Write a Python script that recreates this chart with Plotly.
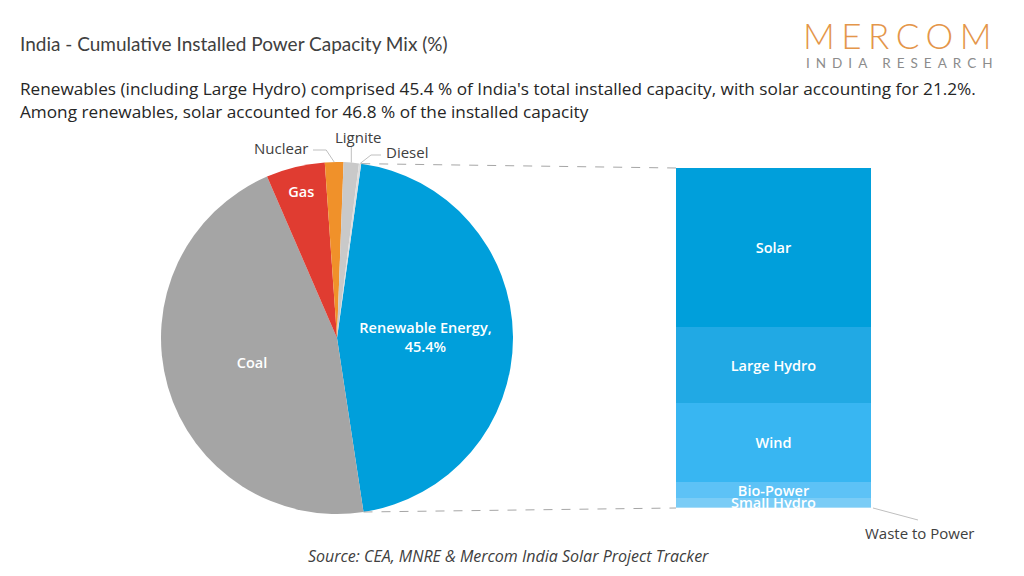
import numpy as np
import plotly.graph_objects as go

W, H = 1024, 576


def px(x):
    return x / W


def py(y):
    return 1 - y / H


# ---------------- data ----------------
mix_labels = ["Renewable Energy", "Coal", "Gas", "Nuclear", "Lignite", "Diesel"]
mix_values = [45.4, 45.9, 5.4, 1.7, 1.4, 0.2]
mix_colors = ["#009FDB", "#A5A5A5", "#E03C31", "#F0912A", "#C9C9C9", "#DDDDDD"]

re_labels = ["Waste to Power", "Small Hydro", "Bio-Power", "Wind", "Large Hydro", "Solar"]
re_values = [0.3, 2.7, 4.6, 23.3, 22.3, 46.8]
re_colors = ["#A6DCF8", "#7ACCF6", "#5DC2F6", "#38B6F2", "#21A9E4", "#009FDB"]

title_text = "India - Cumulative Installed Power Capacity Mix (%)"
subtitle_1 = ("Renewables (including Large Hydro) comprised 45.4 % of India's total installed "
              "capacity, with solar accounting for 21.2%.")
subtitle_2 = "Among renewables, solar accounted for 46.8 % of the installed capacity"
source_text = "Source: CEA, MNRE & Mercom India Solar Project Tracker"

# ---------------- geometry ----------------
CX, CY, R = 337, 338, 176
ROT = 7.9  # degrees clockwise from 12 o'clock where first slice starts
BAR_L, BAR_R, BAR_T, BAR_B = 676, 871, 168, 508

fig = go.Figure()

pie_text = [f"{mix_labels[0]},<br>{mix_values[0]}%", "Coal", "Gas", "", "", ""]
pie_pos = ["inside", "inside", "inside", "none", "none", "none"]
fig.add_trace(go.Pie(
    labels=mix_labels, values=mix_values, sort=False, direction="clockwise",
    rotation=ROT, marker=dict(colors=mix_colors, line=dict(width=0)),
    text=pie_text, textinfo="text", textposition=pie_pos,
    insidetextorientation="horizontal",
    textfont=dict(color="white", size=14.5, family="Open Sans", weight=600),
    domain=dict(x=[px(CX - R), px(CX + R)], y=[py(CY + R), py(CY - R)]),
    showlegend=False, hoverinfo="skip",
))

for lab, val, col in zip(re_labels, re_values, re_colors):
    fig.add_trace(go.Bar(
        x=["RE"], y=[val], marker=dict(color=col, line=dict(width=0)),
        text=[lab], textposition="none" if lab == "Waste to Power" else "inside",
        insidetextanchor="middle", cliponaxis=False,
        textfont=dict(color="white", size=14.5, family="Open Sans", weight=600),
        showlegend=False, hoverinfo="skip",
    ))

# angles of slice edges (derived from data)
tot = sum(mix_values)
edges = [ROT]
for v in mix_values:
    edges.append(edges[-1] + v / tot * 360)


def pt(angle_deg, r=R):
    a = np.radians(angle_deg)
    return CX + r * np.sin(a), CY - r * np.cos(a)


shapes = []
line_gray = "#A6A6A6"
# dashed connectors from renewable slice to the bar
x0, y0 = pt(edges[0])
x1, y1 = pt(edges[1])
shapes.append(dict(type="line", xref="paper", yref="paper", x0=px(x0), y0=py(y0),
                   x1=px(BAR_L), y1=py(BAR_T), line=dict(color=line_gray, width=1, dash="dash")))
shapes.append(dict(type="line", xref="paper", yref="paper", x0=px(x1), y0=py(y1),
                   x1=px(BAR_L), y1=py(BAR_B), line=dict(color=line_gray, width=1, dash="dash")))


# leader lines for small slices
def leader(points):
    for (a, b), (c, d) in zip(points[:-1], points[1:]):
        shapes.append(dict(type="line", xref="paper", yref="paper", x0=px(a), y0=py(b),
                           x1=px(c), y1=py(d), line=dict(color="#BFBFBF", width=1)))


nuc = pt((edges[3] + edges[4]) / 2)
lig = pt((edges[4] + edges[5]) / 2)
die = pt((edges[5] + edges[6]) / 2)
leader([(nuc[0], nuc[1]), (nuc[0] - 8, 150), (313, 150)])
leader([(lig[0], lig[1]), (lig[0], 146)])
leader([(die[0], die[1]), (371, 155), (381, 155)])
leader([(BAR_R + 2, BAR_B), (918, 520)])

ann = []
dark = "#404040"
ann.append(dict(text=title_text, x=px(18), y=py(44), xanchor="left", yanchor="middle",
                font=dict(family="Lato", size=19, color=dark)))
ann.append(dict(text=subtitle_1, x=px(18), y=py(88), xanchor="left", yanchor="middle",
                font=dict(family="Open Sans", size=17.2, color="#262626")))
ann.append(dict(text=subtitle_2, x=px(18), y=py(111), xanchor="left", yanchor="middle",
                font=dict(family="Open Sans", size=17.2, color="#262626")))
ann.append(dict(text="<span style='letter-spacing:6.5px'>MERCOM</span>", x=px(1000), y=py(35),
                xanchor="right", yanchor="middle",
                font=dict(family="Lato", size=35, color="#E4964A", weight=300)))
ann.append(dict(text="<span style='letter-spacing:6px'>INDIA RESEARCH</span>", x=px(1000),
                y=py(63), xanchor="right", yanchor="middle",
                font=dict(family="Lato", size=13.5, color="#8C8C8C")))
ann.append(dict(text=source_text, x=px(508), y=py(556), xanchor="center", yanchor="middle",
                font=dict(family="Open Sans", size=16, color=dark, style="italic")))
ann.append(dict(text="Nuclear", x=px(281), y=py(148), xanchor="center", yanchor="middle",
                font=dict(family="Open Sans", size=15, color=dark)))
ann.append(dict(text="Lignite", x=px(358), y=py(137), xanchor="center", yanchor="middle",
                font=dict(family="Open Sans", size=15, color=dark)))
ann.append(dict(text="Diesel", x=px(407), y=py(152), xanchor="center", yanchor="middle",
                font=dict(family="Open Sans", size=15, color=dark)))
ann.append(dict(text="Waste to Power", x=px(920), y=py(533), xanchor="center", yanchor="middle",
                font=dict(family="Open Sans", size=15, color=dark)))
for a in ann:
    a.update(xref="paper", yref="paper", showarrow=False)

fig.update_layout(
    width=W, height=H, margin=dict(l=0, r=0, t=0, b=0),
    paper_bgcolor="white", plot_bgcolor="white",
    barmode="stack", bargap=0,
    xaxis=dict(domain=[px(BAR_L), px(BAR_R)], range=[-0.5, 0.5], visible=False, fixedrange=True),
    yaxis=dict(domain=[py(BAR_B), py(BAR_T)], range=[0, 100], visible=False, fixedrange=True),
    uniformtext=dict(minsize=14.5, mode="show"),
    shapes=shapes, annotations=ann,
)

fig.write_html("out.html", config={"displayModeBar": False})
